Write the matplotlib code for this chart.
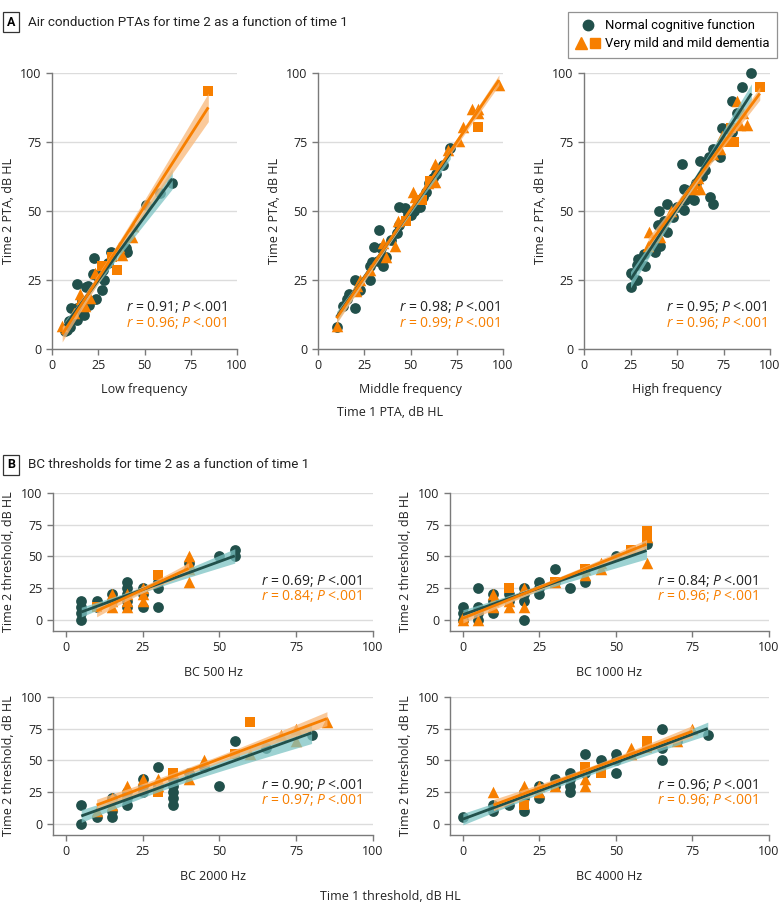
import matplotlib
matplotlib.use("Agg")
import matplotlib.pyplot as plt
import numpy as np
from matplotlib.legend_handler import HandlerTuple
from matplotlib.lines import Line2D

# ---- panel A: air conduction PTAs (time 1 vs time 2) ----
low_circ_x = [65, 58.5, 51, 40, 40.5, 32, 22.5, 27.5, 28, 27, 22, 19.5, 13.5, 18.5, 24, 16, 10.5, 13.5, 15, 17.5, 11.5, 13.5, 9, 9.5, 8, 7, 20, 25, 30]
low_circ_y = [60, 56.5, 52, 36.5, 35, 35, 33, 28.5, 25, 21.5, 27, 23, 23.5, 22.5, 18, 17.5, 15, 15, 13, 12.5, 11, 10.5, 10, 8, 7, 6.5, 16, 26, 31]
low_tri_x = [5.5, 15, 15.5, 20.5, 23.5, 38, 44, 43.5, 18, 12, 36]
low_tri_y = [8.5, 20, 18, 18.5, 27.5, 34, 44.5, 40.5, 15.5, 13, 37]
low_sq_x = [84.5, 35, 27, 32.5]
low_sq_y = [93.5, 28.5, 30, 33.5]

mid_circ_x = [71.5, 67.5, 64, 62, 58.5, 57, 55, 50.5, 44, 47, 48.5, 44, 42.5, 39.5, 33, 30.5, 34, 35, 32.5, 29, 28, 28, 20, 22.5, 15.5, 20, 17, 10, 13.5, 37, 60, 52]
mid_circ_y = [73, 66.5, 63.5, 62, 57, 55, 51.5, 48.5, 51.5, 51, 49, 45, 42, 39.5, 43, 37, 36.5, 30, 32, 31.5, 30, 25, 25, 21.5, 18, 15, 20, 8, 15.5, 33.5, 60, 50]
mid_tri_x = [97.8, 83, 86.5, 86.5, 78.5, 76, 70.5, 63, 63, 59.5, 51.5, 52.5, 43, 41.5, 35, 37, 28, 22.5, 20.5, 10, 21]
mid_tri_y = [95.5, 87, 87, 85.5, 80.5, 75.5, 72, 67, 60.5, 60, 57, 55, 46.5, 37.5, 38.5, 33.5, 28.5, 25, 21, 8.5, 23]
mid_sq_x = [86.5, 60.5, 56, 47.5]
mid_sq_y = [80.5, 61, 54, 46.5]

high_circ_x = [90, 85, 79.5, 82, 79.5, 74, 73, 69.5, 67, 62.5, 52.5, 65, 63.5, 67.5, 69.5, 60, 55, 57, 54.5, 50, 53.5, 44.5, 40.5, 40, 44.5, 48, 36.5, 38, 32, 29, 33, 28.5, 25, 28.5, 25.5, 41, 54, 59, 43]
high_circ_y = [100, 95, 90, 85.5, 78.5, 80, 69.5, 72.5, 69.5, 68, 67, 65, 62.5, 55, 52.5, 60, 57.5, 55, 54, 51.5, 50.5, 52.5, 50, 45, 42.5, 48, 37, 35, 34.5, 32.5, 30, 30.5, 27.5, 25, 22.5, 37.5, 58, 54, 46.5]
high_tri_x = [82, 85.5, 84, 87.5, 74, 73, 69.5, 61.5, 59, 62.5, 59, 47, 35, 41, 34.5]
high_tri_y = [90, 85.5, 81, 81, 77, 72.5, 70.5, 62, 60, 58, 58, 50, 42.5, 40.5, 37.5]
high_sq_x = [94.5, 79, 80.5, 77]
high_sq_y = [95, 80, 75, 75]

# ---- panel B: bone conduction thresholds ----
b500_circ_x = [5, 5, 5, 5, 10, 10, 15, 15, 20, 20, 20, 20, 20, 25, 25, 25, 30, 30, 30, 40, 50, 55, 55]
b500_circ_y = [0, 5, 10, 15, 15, 10, 15, 20, 30, 25, 20, 15, 10, 25, 20, 10, 30, 25, 10, 45, 50, 55, 50]
b500_tri_x = [15, 15, 15, 20, 20, 20, 25, 25, 25, 40, 40, 40, 40]
b500_tri_y = [20, 15, 10, 20, 15, 10, 25, 20, 15, 50, 45, 40, 30]
b500_sq_x = [10, 30]
b500_sq_y = [10, 35]

b1000_circ_x = [0, 0, 0, 5, 5, 5, 5, 10, 10, 10, 15, 15, 20, 20, 20, 20, 25, 25, 25, 30, 30, 35, 40, 40, 50, 60]
b1000_circ_y = [0, 5, 10, 25, 10, 5, 0, 20, 15, 5, 20, 15, 25, 20, 15, 0, 30, 25, 20, 40, 30, 25, 40, 30, 50, 60]
b1000_tri_x = [0, 0, 5, 10, 10, 10, 15, 15, 20, 20, 30, 40, 40, 45, 45, 60, 60]
b1000_tri_y = [0, 2, 0, 20, 15, 10, 15, 10, 25, 10, 30, 40, 35, 45, 40, 65, 45]
b1000_sq_x = [15, 30, 40, 55, 60, 60]
b1000_sq_y = [25, 30, 40, 55, 70, 65]

b2000_circ_x = [5, 5, 10, 15, 15, 15, 20, 20, 20, 25, 25, 25, 30, 30, 35, 35, 35, 35, 35, 40, 45, 50, 55, 65, 80]
b2000_circ_y = [15, 0, 5, 20, 10, 5, 25, 20, 15, 35, 30, 25, 45, 30, 35, 30, 25, 20, 15, 40, 45, 30, 65, 60, 70]
b2000_tri_x = [10, 15, 15, 20, 25, 30, 30, 40, 45, 60, 70, 75, 75, 85]
b2000_tri_y = [10, 20, 15, 30, 35, 35, 30, 35, 50, 55, 70, 75, 65, 80]
b2000_sq_x = [30, 35, 55, 60]
b2000_sq_y = [25, 40, 55, 80]

b4000_circ_x = [0, 10, 10, 15, 20, 20, 20, 25, 25, 30, 30, 35, 35, 35, 35, 40, 40, 45, 50, 50, 50, 65, 65, 65, 70, 80]
b4000_circ_y = [5, 15, 10, 15, 25, 20, 10, 30, 20, 35, 30, 40, 35, 30, 25, 55, 40, 50, 55, 50, 40, 75, 60, 50, 65, 70]
b4000_tri_x = [10, 20, 20, 25, 25, 30, 40, 40, 55, 55, 60, 75, 70]
b4000_tri_y = [25, 30, 25, 30, 25, 30, 35, 30, 60, 55, 65, 75, 65]
b4000_sq_x = [20, 40, 45, 60, 60]
b4000_sq_y = [15, 45, 40, 65, 60]

a_stats = [("0.91", "0.96"), ("0.98", "0.99"), ("0.95", "0.96")]
b_stats = [("0.69", "0.84"), ("0.84", "0.96"), ("0.90", "0.97"), ("0.96", "0.96")]

DARK = "#21504b"
TEAL_BAND = "#7cc3c3"
ORANGE = "#f77f00"
ORANGE_BAND = "#f9b878"
GRID = "#dcdcdc"
SPINE = "#7a7a7a"
INK = "#222222"

plt.rcParams["font.family"] = ["Open Sans", "DejaVu Sans"]
plt.rcParams["mathtext.fontset"] = "custom"
plt.rcParams["mathtext.it"] = "Open Sans:italic"
plt.rcParams["mathtext.rm"] = "Open Sans"

W, H = 783, 914
fig = plt.figure(figsize=(W / 100, H / 100), dpi=100)


def px_box(left, top, right, bottom):
    return [left / W, 1 - bottom / H, (right - left) / W, (bottom - top) / H]


def fit_band(ax, x, y, line_color, band_color):
    x = np.asarray(x, float)
    y = np.asarray(y, float)
    slope, icpt = np.polyfit(x, y, 1)
    xs = np.linspace(x.min(), x.max(), 100)
    yhat = icpt + slope * xs
    n = len(x)
    resid = y - (icpt + slope * x)
    s = np.sqrt(np.sum(resid ** 2) / (n - 2))
    se = s * np.sqrt(1 / n + (xs - x.mean()) ** 2 / np.sum((x - x.mean()) ** 2))
    ax.fill_between(xs, yhat - 1.6 * se, yhat + 1.6 * se, color=band_color,
                    alpha=0.75, lw=0, zorder=4)
    ax.plot(xs, yhat, color=line_color, lw=2, zorder=5, solid_capstyle="butt")


def style_axes(ax, xlim, ylim):
    ax.set_xlim(*xlim)
    ax.set_ylim(*ylim)
    ax.set_xticks([0, 25, 50, 75, 100])
    ax.set_yticks([0, 25, 50, 75, 100])
    ax.grid(axis="y", color=GRID, lw=1)
    ax.set_axisbelow(True)
    for side in ("top", "right"):
        ax.spines[side].set_visible(False)
    for side in ("left", "bottom"):
        ax.spines[side].set_color(SPINE)
        ax.spines[side].set_linewidth(1)
    ax.tick_params(colors=SPINE, labelcolor=INK, labelsize=9, length=4, width=1)


def draw_panel(ax, cx, cy, tx, ty, sx, sy, stats, txt_x, txt_y, ms):
    ax.scatter(cx, cy, s=ms, color=DARK, marker="o", lw=0, zorder=2, clip_on=False)
    ax.scatter(tx, ty, s=ms * 1.15, color=ORANGE, marker="^", lw=0, zorder=3, clip_on=False)
    ax.scatter(sx, sy, s=ms * 0.9, color=ORANGE, marker="s", lw=0, zorder=3, clip_on=False)
    fit_band(ax, cx, cy, DARK, TEAL_BAND)
    fit_band(ax, list(tx) + list(sx), list(ty) + list(sy), ORANGE, ORANGE_BAND)
    ax.text(txt_x, txt_y[0], r"$r$ = %s; $P$ <.001" % stats[0], transform=ax.transAxes,
            fontsize=10, color=INK, va="center", ha="left")
    ax.text(txt_x, txt_y[1], r"$r$ = %s; $P$ <.001" % stats[1], transform=ax.transAxes,
            fontsize=10, color=ORANGE, va="center", ha="left")


# panel A
a_boxes = [(52, 73, 237, 349), (318, 73, 503, 349), (584, 73, 770, 349)]
a_data = [
    (low_circ_x, low_circ_y, low_tri_x, low_tri_y, low_sq_x, low_sq_y),
    (mid_circ_x, mid_circ_y, mid_tri_x, mid_tri_y, mid_sq_x, mid_sq_y),
    (high_circ_x, high_circ_y, high_tri_x, high_tri_y, high_sq_x, high_sq_y),
]
a_xlabels = ["Low frequency", "Middle frequency", "High frequency"]
a_txt_x = [0.40, 0.44, 0.44]
for i, (bx, d) in enumerate(zip(a_boxes, a_data)):
    ax = fig.add_axes(px_box(*bx))
    style_axes(ax, (0, 100), (0, 100))
    draw_panel(ax, *d, a_stats[i], a_txt_x[i], (0.152, 0.094), 60)
    ax.set_xlabel(a_xlabels[i], fontsize=9, color=INK)
    ax.xaxis.set_label_coords(0.5, -0.125)
    ax.set_ylabel("Time 2 PTA, dB HL", fontsize=9, color=INK)
    ax.yaxis.set_label_coords(-0.2, 0.5)

# panel B
b_boxes = [(53, 493, 373, 631), (450, 493, 769, 631), (53, 697, 373, 835), (450, 697, 769, 835)]
b_data = [
    (b500_circ_x, b500_circ_y, b500_tri_x, b500_tri_y, b500_sq_x, b500_sq_y),
    (b1000_circ_x, b1000_circ_y, b1000_tri_x, b1000_tri_y, b1000_sq_x, b1000_sq_y),
    (b2000_circ_x, b2000_circ_y, b2000_tri_x, b2000_tri_y, b2000_sq_x, b2000_sq_y),
    (b4000_circ_x, b4000_circ_y, b4000_tri_x, b4000_tri_y, b4000_sq_x, b4000_sq_y),
]
b_xlabels = ["BC 500 Hz", "BC 1000 Hz", "BC 2000 Hz", "BC 4000 Hz"]
for i, (bx, d) in enumerate(zip(b_boxes, b_data)):
    ax = fig.add_axes(px_box(*bx))
    style_axes(ax, (-4.2, 100), (-9, 100))
    draw_panel(ax, *d, b_stats[i], 0.65, (0.36, 0.25), 60)
    ax.set_xlabel(b_xlabels[i], fontsize=9, color=INK)
    ax.xaxis.set_label_coords(0.5, -0.25)
    ax.set_ylabel("Time 2 threshold, dB HL", fontsize=9, color=INK)
    ax.yaxis.set_label_coords(-0.12, 0.5)

# common labels and panel titles
fig.text(390 / W, 1 - 412 / H, "Time 1 PTA, dB HL", ha="center", va="center", fontsize=9, color=INK)
fig.text(390 / W, 1 - 896 / H, "Time 1 threshold, dB HL", ha="center", va="center", fontsize=9, color=INK)

title_font = ["Roboto", "DejaVu Sans"]
for letter, title, ypx in [("A", "Air conduction PTAs for time 2 as a function of time 1", 22),
                           ("B", "BC thresholds for time 2 as a function of time 1", 465)]:
    fig.text(11 / W, 1 - ypx / H, letter, ha="center", va="center", fontsize=9, fontweight="bold",
             family=title_font,
             bbox=dict(boxstyle="square,pad=0.3", fc="white", ec="#333333", lw=0.9))
    fig.text(28 / W, 1 - ypx / H, title, ha="left", va="center", fontsize=9.6, family=title_font,
             color=INK)

# legend
h_circ = Line2D([], [], marker="o", ls="", color=DARK, markersize=7.5)
h_tri = Line2D([], [], marker="^", ls="", color=ORANGE, markersize=8.5)
h_sq = Line2D([], [], marker="s", ls="", color=ORANGE, markersize=7)
leg = fig.legend([h_circ, (h_tri, h_sq)], ["Normal cognitive function", "Very mild and mild dementia"],
                 handler_map={tuple: HandlerTuple(ndivide=None, pad=0.2)},
                 loc="upper right", bbox_to_anchor=(777 / W, 1 - 12 / H), frameon=True,
                 fancybox=False, edgecolor="#777777", handlelength=1.9, handletextpad=0.4,
                 borderpad=0.55, borderaxespad=0, labelspacing=0.4,
                 prop={"family": title_font, "size": 9.4})
leg.get_frame().set_linewidth(0.9)

fig.savefig("out.png", dpi=100)
